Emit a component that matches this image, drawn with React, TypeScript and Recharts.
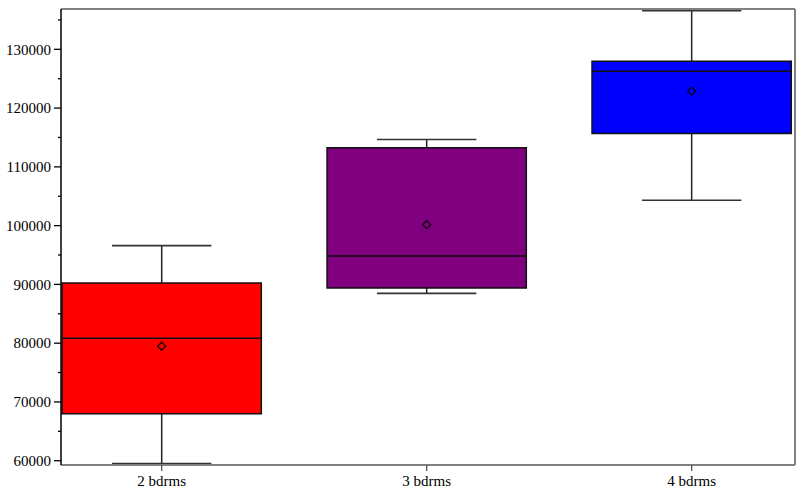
import React from 'react';
import {
  ComposedChart,
  XAxis,
  YAxis,
  Scatter,
  ReferenceArea,
  ReferenceLine,
} from 'recharts';

const categories = ['2 bdrms', '3 bdrms', '4 bdrms'];
const boxColors = ['#FF0000', '#800080', '#0000FF'];
const mins = [59500, 88470, 104330];
const q1s = [68000, 89390, 115680];
const medians = [80850, 94840, 126260];
const q3s = [90240, 113230, 127960];
const maxs = [96590, 114660, 136570];
const means = [79490, 100170, 122890];

const yTicks = [
  60000, 65000, 70000, 75000, 80000, 85000, 90000, 95000, 100000, 105000,
  110000, 115000, 120000, 125000, 130000, 135000,
];
const xPositions = [1, 2, 3];

const X_MIN = 0.62;
const X_MAX = 3.39;
const Y_MIN = 59270;
const Y_MAX = 136860;
const BOX_HALF = 0.376;
const CAP_HALF = 0.1875;

const FONT = '"Liberation Serif", "Times New Roman", serif';

const meanData = xPositions.map((x, i) => ({ x, y: means[i] }));

const YTick = (props: any) => {
  const { x, y, payload } = props;
  const v = payload.value as number;
  const major = v % 10000 === 0;
  const axisX = x + 10;
  return (
    <g>
      <line
        x1={major ? axisX - 7 : axisX - 3}
        x2={axisX}
        y1={y}
        y2={y}
        stroke="#000"
        strokeWidth={1.3}
      />
      {major && (
        <text
          x={x}
          y={y}
          dy="0.35em"
          textAnchor="end"
          fontSize={15}
          fontFamily={FONT}
          fill="#000"
        >
          {String(v)}
        </text>
      )}
    </g>
  );
};

const Diamond = (props: any) => {
  const { cx, cy } = props;
  const r = 4;
  return (
    <path
      d={`M${cx},${cy - r} L${cx + r},${cy} L${cx},${cy + r} L${cx - r},${cy} Z`}
      fill="none"
      stroke="#000"
      strokeWidth={1.2}
    />
  );
};

export default function App() {
  return (
    <div style={{ position: 'absolute', left: 0, top: 0, background: '#fff' }}>
      <ComposedChart
        width={806}
        height={490}
        margin={{ top: 9, right: 11, bottom: 0, left: 0 }}
      >
        <XAxis
          type="number"
          dataKey="x"
          domain={[X_MIN, X_MAX]}
          ticks={xPositions}
          allowDataOverflow
          tickFormatter={(v: number) => categories[Math.round(v) - 1] ?? ''}
          height={25}
          tickSize={6}
          tickMargin={4}
          axisLine={{ stroke: '#808080', strokeWidth: 2 }}
          tickLine={{ stroke: '#555', strokeWidth: 1.3 }}
          tick={{ fontSize: 15, fontFamily: FONT, fill: '#000' }}
        />
        <YAxis
          type="number"
          domain={[Y_MIN, Y_MAX]}
          ticks={yTicks}
          allowDataOverflow
          width={61}
          tickSize={7}
          tickMargin={3}
          tickLine={false}
          axisLine={{ stroke: '#000', strokeWidth: 1.5 }}
          tick={<YTick />}
          interval={0}
        />
        <ReferenceLine
          y={Y_MAX}
          stroke="#808080"
          strokeWidth={2}
          ifOverflow="visible"
        />
        <ReferenceLine
          x={X_MAX}
          stroke="#808080"
          strokeWidth={2}
          ifOverflow="visible"
        />
        {xPositions.map((x, i) => (
          <ReferenceLine
            key={`wl${i}`}
            segment={[
              { x, y: mins[i] },
              { x, y: q1s[i] },
            ]}
            stroke="#222"
            strokeWidth={1.5}
            ifOverflow="visible"
          />
        ))}
        {xPositions.map((x, i) => (
          <ReferenceLine
            key={`wu${i}`}
            segment={[
              { x, y: q3s[i] },
              { x, y: maxs[i] },
            ]}
            stroke="#222"
            strokeWidth={1.5}
            ifOverflow="visible"
          />
        ))}
        {xPositions.map((x, i) => (
          <ReferenceLine
            key={`cl${i}`}
            segment={[
              { x: x - CAP_HALF, y: mins[i] },
              { x: x + CAP_HALF, y: mins[i] },
            ]}
            stroke="#333"
            strokeWidth={1.6}
            ifOverflow="visible"
          />
        ))}
        {xPositions.map((x, i) => (
          <ReferenceLine
            key={`cu${i}`}
            segment={[
              { x: x - CAP_HALF, y: maxs[i] },
              { x: x + CAP_HALF, y: maxs[i] },
            ]}
            stroke="#333"
            strokeWidth={1.6}
            ifOverflow="visible"
          />
        ))}
        {xPositions.map((x, i) => (
          <ReferenceArea
            key={`box${i}`}
            x1={x - BOX_HALF}
            x2={x + BOX_HALF}
            y1={q1s[i]}
            y2={q3s[i]}
            fill={boxColors[i]}
            fillOpacity={1}
            stroke="#111"
            strokeWidth={1.5}
            ifOverflow="visible"
          />
        ))}
        {xPositions.map((x, i) => (
          <ReferenceLine
            key={`med${i}`}
            segment={[
              { x: x - BOX_HALF, y: medians[i] },
              { x: x + BOX_HALF, y: medians[i] },
            ]}
            stroke="#111"
            strokeWidth={1.5}
            ifOverflow="visible"
          />
        ))}
        <Scatter
          data={meanData}
          dataKey="y"
          shape={<Diamond />}
          isAnimationActive={false}
        />
      </ComposedChart>
    </div>
  );
}
